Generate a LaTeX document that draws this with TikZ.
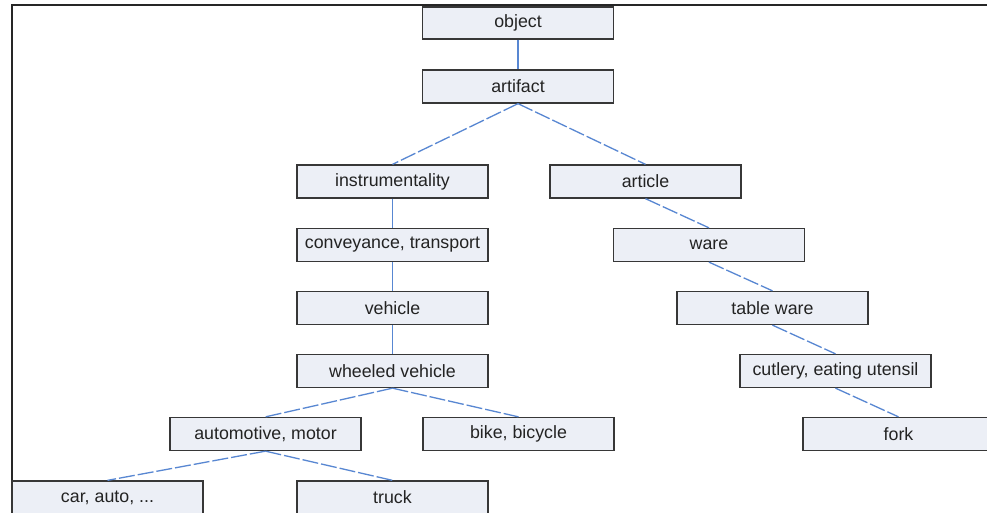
\documentclass[tikz,border=0pt]{standalone}
\usepackage{fontspec}
\setmainfont{Liberation Sans}
\begin{document}
\begin{tikzpicture}[x=1pt,y=-1pt,
  box/.style={rectangle, draw=boxline, fill=boxfill, line width=1.3pt,
    minimum width=191pt, minimum height=33pt, inner sep=0pt,
    text=boxtext, font=\fontsize{17.8}{20}\selectfont},
  solidedge/.style={draw=edgeblue, line width=1.3pt},
  dashedge/.style={draw=edgeblue, line width=1.3pt, dash pattern=on 16pt off 3pt}]
  \definecolor{boxfill}{RGB}{236,239,246}
  \definecolor{boxline}{RGB}{55,55,55}
  \definecolor{boxtext}{RGB}{35,35,35}
  \definecolor{edgeblue}{RGB}{88,135,210}
  \clip (0,0) rectangle (987,512);
  \fill[white] (0,0) rectangle (987,512);
  % frame lines along the top and left edges
  \coordinate (ftl) at (12,5);
  \coordinate (ftr) at (987,5);
  \coordinate (fbl) at (12,512);
  \draw[line width=2pt, black!85] (ftr) -- (ftl) -- (fbl);

  % nodes of the hierarchy
  \node[box, minimum height=32pt] (obj) at (518,23) {object};
  \node[box] (art) at (518,86.5) {artifact};
  \node[box] (ins) at (392.5,181.5) {instrumentality};
  \node[box] (arti) at (645.5,181.5) {article};
  \node[box] (conv) at (392.5,245) {conveyance, transport};
  \node[box] (ware) at (709,245) {ware};
  \node[box] (veh) at (392.5,308) {vehicle};
  \node[box] (tw) at (772.5,308) {table ware};
  \node[box] (wv) at (392.5,371) {wheeled vehicle};
  \node[box] (cut) at (835.5,371) {cutlery, eating utensil};
  \node[box] (auto) at (265.5,434) {automotive, motor};
  \node[box] (bike) at (518.5,434) {bike, bicycle};
  \node[box] (fork) at (898.5,434) {fork};
  \node[box] (car) at (107.5,497.5) {car, auto, ...};
  \node[box] (truck) at (392.5,497.5) {truck};

  % connectors
  \draw[solidedge] (obj.south) -- (art.north);
  \draw[dashedge] (art.south) -- (ins.north);
  \draw[dashedge] (art.south) -- (arti.north);
  \draw[solidedge] (ins.south) -- (conv.north);
  \draw[solidedge] (conv.south) -- (veh.north);
  \draw[solidedge] (veh.south) -- (wv.north);
  \draw[dashedge] (wv.south) -- (auto.north);
  \draw[dashedge] (wv.south) -- (bike.north);
  \draw[dashedge] (auto.south) -- (car.north);
  \draw[dashedge] (auto.south) -- (truck.north);
  \draw[dashedge] (arti.south) -- (ware.north);
  \draw[dashedge] (ware.south) -- (tw.north);
  \draw[dashedge] (tw.south) -- (cut.north);
  \draw[dashedge] (cut.south) -- (fork.north);
\end{tikzpicture}
\end{document}
